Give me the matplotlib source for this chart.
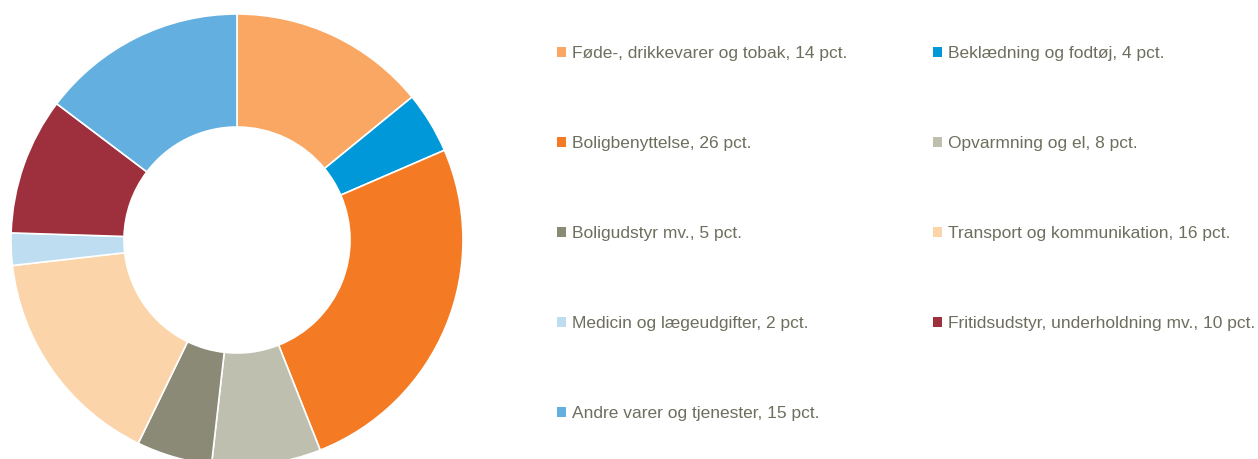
import matplotlib
matplotlib.use('Agg')
import matplotlib.pyplot as plt

plt.rcParams['font.family'] = ['Liberation Sans', 'DejaVu Sans']

labels = ['Føde-, drikkevarer og tobak, 14 pct.',
          'Beklædning og fodtøj, 4 pct.',
          'Boligbenyttelse, 26 pct.',
          'Opvarmning og el, 8 pct.',
          'Boligudstyr mv., 5 pct.',
          'Transport og kommunikation, 16 pct.',
          'Medicin og lægeudgifter, 2 pct.',
          'Fritidsudstyr, underholdning mv., 10 pct.',
          'Andre varer og tjenester, 15 pct.']
shares = [14.1, 4.4, 25.5, 7.8, 5.4, 16.0, 2.3, 9.8, 14.7]
colors = ['#F9A762', '#0098D8', '#F47B24', '#BFBFB0', '#8A8A77',
          '#FCD4AA', '#BFDDF0', '#9E2F3C', '#63B0E0']

fig = plt.figure(figsize=(12.58, 4.59), dpi=100)
# donut: centre (237, 240) px, radius 226 px
ax = fig.add_axes([11 / 1258, -7 / 459, 452 / 1258, 452 / 459])
wedges, _ = ax.pie(shares, colors=colors, startangle=90, counterclock=False,
                   wedgeprops=dict(width=0.5, edgecolor='white', linewidth=1.2))
ax.set_xlim(-1, 1)
ax.set_ylim(-1, 1)
ax.set_aspect('equal')

# row-wise legend order: column 1 = 0,2,4,6,8; column 2 = 1,3,5,7
order = [0, 2, 4, 6, 8, 1, 3, 5, 7]
leg = fig.legend([wedges[i] for i in order], [labels[i] for i in order],
                 ncol=2, loc='upper left', bbox_to_anchor=(557 / 1258, 1 - 46 / 459),
                 frameon=False, fontsize=12.5, handlelength=0.53, handleheight=0.53,
                 handletextpad=0.35, labelspacing=4.32, columnspacing=4.9,
                 borderpad=0, borderaxespad=0)
for t in leg.get_texts():
    t.set_color('#6E6E5E')
for h in leg.legend_handles:
    h.set_edgecolor('none')

fig.savefig('out.png', dpi=100)
